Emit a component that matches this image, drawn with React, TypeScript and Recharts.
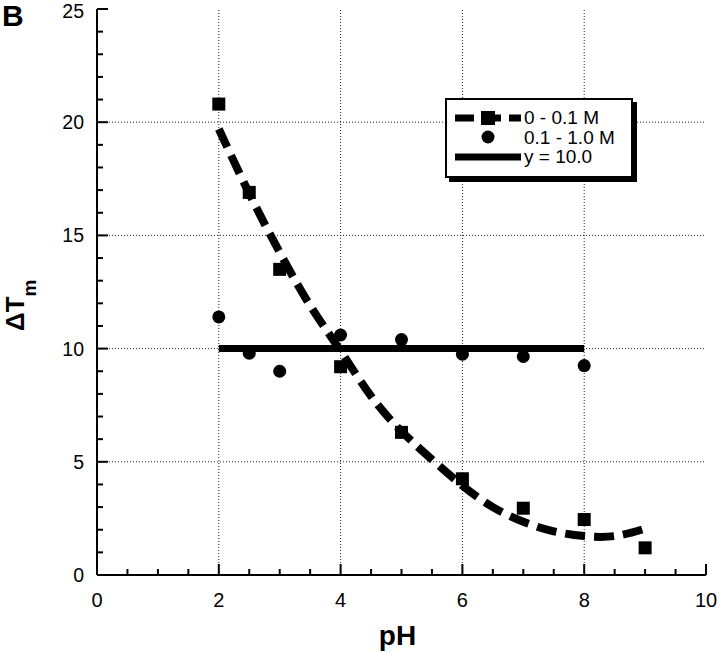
import { ComposedChart, XAxis, YAxis, Line, Scatter, ReferenceLine, Legend } from 'recharts';

// 0 - 0.1 M (squares)
const phLow = [2, 2.5, 3, 4, 5, 6, 7, 8, 9];
const dtmLow = [20.8, 16.9, 13.5, 9.2, 6.3, 4.25, 2.95, 2.45, 1.2];

// 0.1 - 1.0 M (circles)
const phHigh = [2, 2.5, 3, 4, 5, 6, 7, 8];
const dtmHigh = [11.4, 9.8, 9.0, 10.6, 10.4, 9.75, 9.65, 9.25];

// dashed fit through the squares
const fitPh = [2, 2.5, 3, 3.5, 4, 4.5, 5, 5.5, 6, 6.5, 7, 7.5, 8, 8.5, 9];
const fitDtm = [19.7, 16.85, 14.25, 11.9, 9.9, 7.9, 6.35, 5.1, 3.95, 3.0, 2.35, 1.93, 1.72, 1.72, 2.05];

// y = 10.0
const constPh = [2, 8];
const constDtm = [10, 10];

const xTicks = [0, 0.5, 1, 1.5, 2, 2.5, 3, 3.5, 4, 4.5, 5, 5.5, 6, 6.5, 7, 7.5, 8, 8.5, 9, 9.5, 10];
const xLabels = [0, 2, 4, 6, 8, 10];
const yTicks = [0, 1, 2, 3, 4, 5, 6, 7, 8, 9, 10, 11, 12, 13, 14, 15, 16, 17, 18, 19, 20, 21, 22, 23, 24, 25];
const yLabels = [0, 5, 10, 15, 20, 25];
const xGrid = [2, 4, 6, 8];
const yGrid = [5, 10, 15, 20];

const legendNames = ['0 - 0.1 M', '0.1 - 1.0 M', 'y = 10.0'];

const FONT = '"Liberation Sans", Arial, Helvetica, sans-serif';

const toRows = (xs: number[], ys: number[]) => xs.map((ph, i) => ({ ph, dtm: ys[i] }));

const lowData = toRows(phLow, dtmLow);
const highData = toRows(phHigh, dtmHigh);
const fitData = toRows(fitPh, fitDtm);
const constData = toRows(constPh, constDtm);

function BottomTick(props: any) {
  const { x, y, payload } = props;
  const major = xLabels.includes(payload.value);
  return (
    <g>
      <line x1={x} y1={y} x2={x} y2={y - (major ? 11 : 6)} stroke="#000" strokeWidth={2} />
      {major && (
        <text x={x} y={y + 32} textAnchor="middle" fontSize={20} fontFamily={FONT} fill="#000">
          {payload.value}
        </text>
      )}
    </g>
  );
}

function TopTick(props: any) {
  const { x, y, payload } = props;
  const major = xLabels.includes(payload.value);
  return <line x1={x} y1={y} x2={x} y2={y + (major ? 11 : 6)} stroke="#000" strokeWidth={2} />;
}

function LeftTick(props: any) {
  const { x, y, payload } = props;
  const major = yLabels.includes(payload.value);
  // keep the top label inside the page
  const baseline = Math.max(y + 7, 18);
  return (
    <g>
      <line x1={x} y1={y} x2={x + (major ? 11 : 6)} y2={y} stroke="#000" strokeWidth={2} />
      {major && (
        <text x={x - 13} y={baseline} textAnchor="end" fontSize={19.5} fontFamily={FONT} fill="#000">
          {payload.value}
        </text>
      )}
    </g>
  );
}

function RightTick(props: any) {
  const { x, y, payload } = props;
  const major = yLabels.includes(payload.value);
  return <line x1={x} y1={y} x2={x - (major ? 11 : 6)} y2={y} stroke="#000" strokeWidth={2} />;
}

const SquareDot = (p: any) => <rect x={p.cx - 6.5} y={p.cy - 6.5} width={13} height={13} fill="#000" />;
const RoundDot = (p: any) => <circle cx={p.cx} cy={p.cy} r={6.5} fill="#000" />;

function YTitle(props: any) {
  const vb = props.viewBox;
  const x = vb.x + 24;
  const y = vb.y + vb.height / 2 + 39;
  return (
    <text
      x={x}
      y={y}
      transform={`rotate(-90, ${x}, ${y})`}
      fontFamily={FONT}
      fontWeight="bold"
      fontSize={26}
      fill="#000"
    >
      ΔT
      <tspan dy={12} fontSize={19}>m</tspan>
    </text>
  );
}

function XTitle(props: any) {
  const vb = props.viewBox;
  return (
    <text
      x={vb.x + vb.width / 2 - 4}
      y={645}
      textAnchor="middle"
      fontFamily={FONT}
      fontWeight="bold"
      fontSize={28}
      fill="#000"
    >
      pH
    </text>
  );
}

function LegendIcon({ index }: { index: number }) {
  if (index === 0) {
    return (
      <svg width={66} height={18}>
        <line x1={0} y1={9} x2={66} y2={9} stroke="#000" strokeWidth={7} strokeDasharray="19 8" />
        <rect x={26} y={2} width={14} height={14} fill="#000" />
      </svg>
    );
  }
  if (index === 1) {
    return (
      <svg width={66} height={18}>
        <circle cx={33} cy={9} r={6.5} fill="#000" />
      </svg>
    );
  }
  return (
    <svg width={66} height={18}>
      <line x1={0} y1={9} x2={66} y2={9} stroke="#000" strokeWidth={7} />
    </svg>
  );
}

function LegendBox() {
  return (
    <div
      style={{
        border: '2px solid #000',
        boxShadow: '4px 4px 0 #000',
        background: '#fff',
        width: 184,
        height: 76,
        boxSizing: 'content-box',
        padding: 0,
        position: 'relative',
      }}
    >
      {legendNames.map((name, i) => (
        <div
          key={name}
          style={{
            position: 'absolute',
            left: 8,
            top: 8 + i * 19.5,
            height: 19,
            display: 'flex',
            alignItems: 'center',
            whiteSpace: 'nowrap',
          }}
        >
          <LegendIcon index={i} />
          <span
            style={{
              display: 'inline-block',
              marginLeft: 3,
              fontFamily: FONT,
              fontSize: 19,
              color: '#000',
              lineHeight: '19px',
              height: 19,
              overflow: 'visible',
            }}
          >
            {name}
          </span>
        </div>
      ))}
    </div>
  );
}

export default function App() {
  return (
    <div style={{ position: 'absolute', left: 0, top: 0, width: 720, height: 653, background: '#fff' }}>
      <div
        style={{
          position: 'absolute',
          left: 2,
          top: 1,
          fontFamily: FONT,
          fontWeight: 'bold',
          fontSize: 30,
          lineHeight: '30px',
          color: '#000',
        }}
      >
        B
      </div>
      <ComposedChart width={720} height={653} margin={{ top: 9, right: 14, bottom: 0, left: 0 }}>
        <XAxis
          dataKey="ph"
          type="number"
          domain={[0, 10]}
          ticks={xTicks}
          interval={0}
          height={78}
          tickSize={0}
          tickMargin={0}
          tickLine={false}
          axisLine={{ stroke: '#000', strokeWidth: 2 }}
          tick={<BottomTick />}
          label={{ content: <XTitle /> }}
          allowDataOverflow
        />
        <XAxis
          xAxisId="top"
          orientation="top"
          dataKey="ph"
          type="number"
          domain={[0, 10]}
          ticks={xTicks}
          interval={0}
          height={0}
          tickSize={0}
          tickMargin={0}
          tickLine={false}
          axisLine={{ stroke: '#000', strokeWidth: 2 }}
          tick={<TopTick />}
          allowDataOverflow
        />
        <YAxis
          type="number"
          domain={[0, 25]}
          ticks={yTicks}
          interval={0}
          width={97}
          tickSize={0}
          tickMargin={0}
          tickLine={false}
          axisLine={{ stroke: '#000', strokeWidth: 2 }}
          tick={<LeftTick />}
          label={{ content: <YTitle /> }}
          allowDataOverflow
        />
        <YAxis
          yAxisId="right"
          orientation="right"
          type="number"
          domain={[0, 25]}
          ticks={yTicks}
          interval={0}
          width={0}
          tickSize={0}
          tickMargin={0}
          tickLine={false}
          axisLine={{ stroke: '#000', strokeWidth: 2 }}
          tick={<RightTick />}
          allowDataOverflow
        />
        {xGrid.map((v) => (
          <ReferenceLine key={`gx${v}`} x={v} stroke="#222" strokeWidth={1} strokeDasharray="1 2" />
        ))}
        {yGrid.map((v) => (
          <ReferenceLine key={`gy${v}`} y={v} stroke="#222" strokeWidth={1} strokeDasharray="1 2" />
        ))}
        <Line
          data={fitData}
          dataKey="dtm"
          type="natural"
          stroke="#000"
          strokeWidth={8}
          strokeDasharray="20 9"
          dot={false}
          activeDot={false}
          legendType="none"
          isAnimationActive={false}
        />
        <Line
          data={constData}
          dataKey="dtm"
          name={legendNames[2]}
          type="linear"
          stroke="#000"
          strokeWidth={7}
          dot={false}
          activeDot={false}
          isAnimationActive={false}
        />
        <Scatter data={lowData} dataKey="dtm" name={legendNames[0]} fill="#000" shape={SquareDot} isAnimationActive={false} />
        <Scatter data={highData} dataKey="dtm" name={legendNames[1]} fill="#000" shape={RoundDot} isAnimationActive={false} />
        <Legend
          layout="horizontal"
          verticalAlign="middle"
          align="center"
          wrapperStyle={{ left: 445, top: 98, width: 'auto', height: 'auto' }}
          content={() => <LegendBox />}
        />
      </ComposedChart>
    </div>
  );
}
